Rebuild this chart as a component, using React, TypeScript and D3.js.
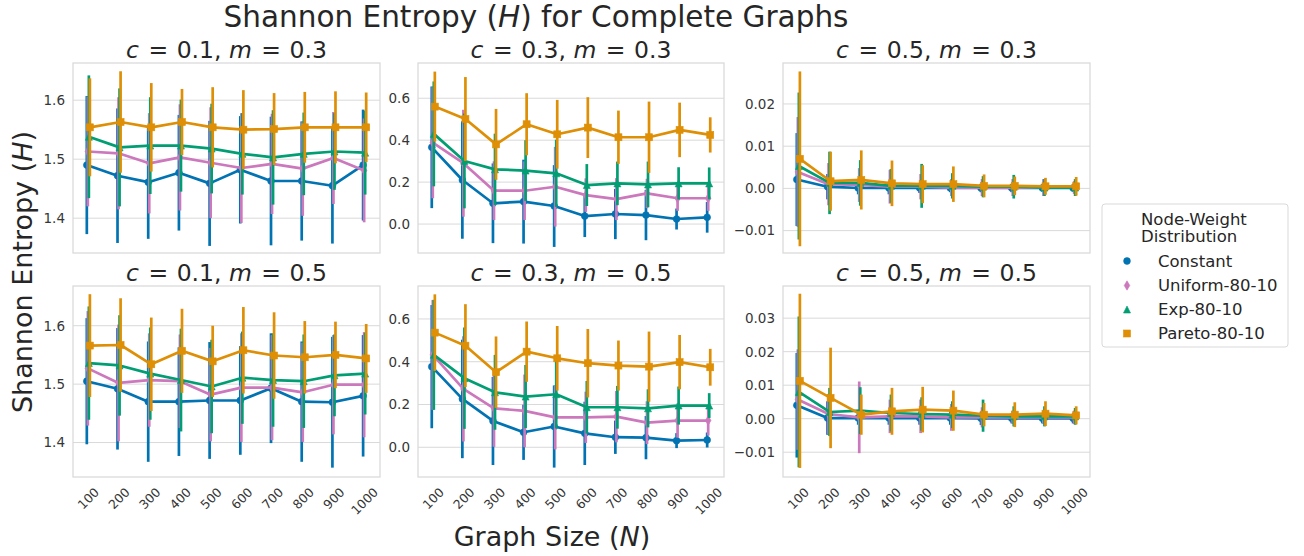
import React from "react";
import * as d3 from "d3";

// Graph sizes on the categorical x axis
const graphSizes = [100, 200, 300, 400, 500, 600, 700, 800, 900, 1000];

// Node-weight distributions (hue levels)
const seriesNames = ["Constant", "Uniform-80-10", "Exp-80-10", "Pareto-80-10"];
const seriesColors = ["#0173b2", "#cc78bc", "#029e73", "#de8f05"];
const seriesMarkers = ["circle", "thinDiamond", "triangle", "square"];

// Facet parameters
const cValues = [0.1, 0.3, 0.5];
const mValues = [0.3, 0.5];

// Mean entropy per series (rows: Constant, Uniform, Exp, Pareto) and CI half-widths
const mean_c01_m03 = [
  [1.49, 1.472, 1.461, 1.477, 1.459, 1.482, 1.463, 1.463, 1.455, 1.49],
  [1.513, 1.51, 1.493, 1.503, 1.494, 1.485, 1.492, 1.484, 1.502, 1.481],
  [1.538, 1.52, 1.523, 1.523, 1.518, 1.509, 1.503, 1.509, 1.513, 1.511],
  [1.554, 1.563, 1.554, 1.563, 1.554, 1.55, 1.551, 1.554, 1.554, 1.554],
];
const ci_c01_m03 = [
  [0.117, 0.114, 0.096, 0.098, 0.106, 0.091, 0.109, 0.101, 0.098, 0.094],
  [0.093, 0.095, 0.085, 0.09, 0.094, 0.093, 0.085, 0.08, 0.078, 0.088],
  [0.104, 0.1, 0.082, 0.078, 0.076, 0.069, 0.08, 0.07, 0.065, 0.071],
  [0.083, 0.086, 0.075, 0.056, 0.068, 0.067, 0.061, 0.06, 0.061, 0.059],
];

const mean_c03_m03 = [
  [0.366, 0.21, 0.099, 0.107, 0.086, 0.038, 0.048, 0.043, 0.024, 0.032],
  [0.388, 0.29, 0.159, 0.159, 0.178, 0.138, 0.119, 0.146, 0.123, 0.123],
  [0.43, 0.301, 0.261, 0.255, 0.242, 0.186, 0.194, 0.189, 0.194, 0.194],
  [0.56, 0.501, 0.38, 0.476, 0.428, 0.46, 0.414, 0.414, 0.449, 0.425],
];
const ci_c03_m03 = [
  [0.29, 0.28, 0.19, 0.2, 0.195, 0.1, 0.12, 0.12, 0.05, 0.073],
  [0.265, 0.255, 0.14, 0.14, 0.19, 0.08, 0.1, 0.07, 0.06, 0.06],
  [0.25, 0.226, 0.17, 0.145, 0.16, 0.1, 0.104, 0.109, 0.077, 0.076],
  [0.167, 0.2, 0.169, 0.148, 0.164, 0.145, 0.127, 0.17, 0.13, 0.084],
];

const mean_c05_m03 = [
  [0.0021, 0.0004, 0.0001, 0.0001, 0.0001, 0.0001, 0.0001, 0.0001, 0.0001, 0.0001],
  [0.0039, 0.001, 0.0008, 0.0004, 0.0004, 0.0002, 0.0002, 0.0002, 0.0002, 0.0002],
  [0.0053, 0.0013, 0.0013, 0.0006, 0.0006, 0.0006, 0.0004, 0.0004, 0.0002, 0.0002],
  [0.007, 0.0017, 0.002, 0.0012, 0.001, 0.001, 0.0006, 0.0006, 0.0005, 0.0005],
];
const ci_c05_m03 = [
  [0.011, 0.003, 0.0015, 0.0015, 0.0012, 0.001, 0.001, 0.001, 0.0008, 0.0008],
  [0.013, 0.005, 0.004, 0.004, 0.003, 0.002, 0.002, 0.002, 0.002, 0.0015],
  [0.0174, 0.0074, 0.0054, 0.004, 0.0052, 0.003, 0.0025, 0.0028, 0.002, 0.002],
  [0.0207, 0.007, 0.007, 0.0054, 0.0045, 0.0042, 0.0027, 0.0022, 0.002, 0.0022],
];

const mean_c01_m05 = [
  [1.505, 1.492, 1.47, 1.47, 1.472, 1.472, 1.493, 1.47, 1.469, 1.48],
  [1.527, 1.502, 1.507, 1.505, 1.482, 1.494, 1.494, 1.486, 1.499, 1.499],
  [1.536, 1.532, 1.518, 1.507, 1.496, 1.511, 1.507, 1.505, 1.515, 1.518],
  [1.566, 1.567, 1.534, 1.557, 1.539, 1.558, 1.549, 1.546, 1.55, 1.544],
];
const ci_c01_m05 = [
  [0.108, 0.104, 0.103, 0.093, 0.1, 0.093, 0.094, 0.103, 0.112, 0.104],
  [0.098, 0.1, 0.08, 0.08, 0.08, 0.093, 0.09, 0.085, 0.085, 0.09],
  [0.097, 0.086, 0.079, 0.088, 0.08, 0.079, 0.08, 0.08, 0.07, 0.07],
  [0.088, 0.08, 0.08, 0.072, 0.061, 0.074, 0.074, 0.062, 0.057, 0.059],
];

const mean_c03_m05 = [
  [0.377, 0.226, 0.123, 0.07, 0.097, 0.065, 0.047, 0.045, 0.031, 0.034],
  [0.432, 0.273, 0.182, 0.17, 0.14, 0.14, 0.143, 0.115, 0.125, 0.125],
  [0.432, 0.323, 0.257, 0.237, 0.248, 0.187, 0.187, 0.182, 0.195, 0.195],
  [0.536, 0.475, 0.351, 0.447, 0.416, 0.393, 0.382, 0.377, 0.398, 0.374],
];
const ci_c03_m05 = [
  [0.288, 0.277, 0.206, 0.129, 0.192, 0.148, 0.078, 0.101, 0.035, 0.035],
  [0.257, 0.246, 0.18, 0.17, 0.15, 0.12, 0.12, 0.1, 0.08, 0.07],
  [0.257, 0.237, 0.175, 0.148, 0.16, 0.123, 0.1, 0.089, 0.089, 0.058],
  [0.179, 0.194, 0.167, 0.141, 0.151, 0.16, 0.117, 0.164, 0.127, 0.086],
];

const mean_c05_m05 = [
  [0.004, 0.0002, 0.0002, 0.0002, 0.0002, 0.0002, 0.0001, 0.0001, 0.0001, 0.0001],
  [0.0057, 0.0014, 0.0004, 0.0007, 0.0007, 0.0004, 0.0004, 0.0004, 0.0004, 0.0004],
  [0.008, 0.002, 0.0024, 0.0017, 0.0014, 0.0012, 0.0009, 0.0007, 0.0007, 0.0007],
  [0.0113, 0.0062, 0.0012, 0.0022, 0.0027, 0.0024, 0.0012, 0.0012, 0.0015, 0.001],
];
const ci_c05_m05 = [
  [0.0156, 0.005, 0.002, 0.002, 0.002, 0.002, 0.002, 0.0015, 0.0015, 0.0015],
  [0.015, 0.006, 0.0107, 0.005, 0.005, 0.004, 0.003, 0.002, 0.002, 0.002],
  [0.0225, 0.0072, 0.007, 0.0055, 0.005, 0.004, 0.0048, 0.003, 0.003, 0.0025],
  [0.026, 0.015, 0.006, 0.007, 0.0068, 0.006, 0.0035, 0.0037, 0.0037, 0.0027],
];

// Axis limits and ticks per facet (row-major: m=0.3 row, then m=0.5 row)
const yLimits = [
  [1.341, 1.663], [-0.138, 0.768], [-0.0153, 0.0297],
  [1.341, 1.668], [-0.139, 0.754], [-0.0174, 0.0396],
];
const yTicks = [
  [1.4, 1.5, 1.6], [0.0, 0.2, 0.4, 0.6], [-0.01, 0.0, 0.01, 0.02],
  [1.4, 1.5, 1.6], [0.0, 0.2, 0.4, 0.6], [-0.01, 0.0, 0.01, 0.02, 0.03],
];
const yTickDecimals = [1, 1, 2, 1, 1, 2];

const facetMeans = [mean_c01_m03, mean_c03_m03, mean_c05_m03, mean_c01_m05, mean_c03_m05, mean_c05_m05];
const facetCis = [ci_c01_m03, ci_c03_m03, ci_c05_m03, ci_c01_m05, ci_c03_m05, ci_c05_m05];

const FONT = "'DejaVu Sans', sans-serif";
const TEXT = "#262626";
const TICK_TEXT = "#363636";
const GRID = "#d9d9d9";

const colX: [number, number][] = [[73, 380], [418, 724], [783, 1090]];
const rowY: [number, number][] = [[63, 253], [286, 477]];

const LW = 2.7;

function Marker({ kind, x, y, color }: { kind: string; x: number; y: number; color: string }) {
  const sw = 0.6;
  if (kind === "circle") return <circle cx={x} cy={y} r={3.4} fill={color} stroke={color} strokeWidth={sw} />;
  if (kind === "square") return <rect x={x - 3.5} y={y - 3.5} width={7} height={7} fill={color} stroke={color} strokeWidth={sw} />;
  if (kind === "triangle") {
    const s = 7;
    const pts = `${x},${y - s / 2} ${x - s / 2},${y + s / 2} ${x + s / 2},${y + s / 2}`;
    return <polygon points={pts} fill={color} stroke={color} strokeWidth={sw} />;
  }
  const h = 4.7, w = 2.8;
  const pts = `${x},${y - h} ${x + w},${y} ${x},${y + h} ${x - w},${y}`;
  return <polygon points={pts} fill={color} stroke={color} strokeWidth={sw} />;
}

function fmtTick(v: number, dec: number) {
  const s = Math.abs(v).toFixed(dec);
  return v < -1e-12 ? "\u2212" + s : s;
}

function Facet({ idx }: { idx: number }) {
  const col = idx % 3;
  const row = Math.floor(idx / 3);
  const [x0, x1] = colX[col];
  const [y0, y1] = rowY[row];
  const x = d3.scaleLinear().domain([-0.5, graphSizes.length - 0.5]).range([x0, x1]);
  const y = d3.scaleLinear().domain(yLimits[idx]).range([y1, y0]);
  const means = facetMeans[idx];
  const cis = facetCis[idx];
  const nHue = seriesNames.length;
  const dodge = 0.025 * nHue;
  const offsets = d3.range(nHue).map((j) => (j * dodge) / (nHue - 1) - dodge / 2);
  const line = d3.line<[number, number]>().x((d) => d[0]).y((d) => d[1]);
  const showX = row === 1;
  const xFs = 12.5;

  return (
    <g>
      {/* grid */}
      {yTicks[idx].map((t) => (
        <line key={t} x1={x0} x2={x1} y1={y(t)} y2={y(t)} stroke={GRID} strokeWidth={1} />
      ))}
      {/* y tick labels */}
      {yTicks[idx].map((t) => (
        <text key={"l" + t} x={x0 - 8} y={y(t)} dy="0.36em" textAnchor="end" fontSize={13.5} fill={TICK_TEXT} fontFamily={FONT}>
          {fmtTick(t, yTickDecimals[idx])}
        </text>
      ))}
      {/* series */}
      {means.map((vals, j) => {
        const color = seriesColors[j];
        const pts: [number, number][] = vals.map((v, i) => [x(i + offsets[j]), y(v)]);
        return (
          <g key={j}>
            <path d={line(pts) || ""} fill="none" stroke={color} strokeWidth={LW} strokeLinejoin="round" strokeLinecap="round" />
            {vals.map((v, i) => (
              <line key={i} x1={x(i + offsets[j])} x2={x(i + offsets[j])} y1={y(v - cis[j][i])} y2={y(v + cis[j][i])} stroke={color} strokeWidth={LW} />
            ))}
            {vals.map((v, i) => (
              <Marker key={"m" + i} kind={seriesMarkers[j]} x={x(i + offsets[j])} y={y(v)} color={color} />
            ))}
          </g>
        );
      })}
      {/* frame */}
      <rect x={x0} y={y0} width={x1 - x0} height={y1 - y0} fill="none" stroke={GRID} strokeWidth={1.25} />
      {/* title */}
      <text x={(x0 + x1) / 2} y={y0 - 5} textAnchor="middle" fontSize={23.5} fill={TEXT} fontFamily={FONT}>
        <tspan fontStyle="italic">c</tspan>
        <tspan dx={2}> = </tspan>
        <tspan dx={1}>{cValues[col].toFixed(1)}, </tspan>
        <tspan fontStyle="italic">m</tspan>
        <tspan dx={2}> = </tspan>
        <tspan dx={1}>{mValues[row].toFixed(1)}</tspan>
      </text>
      {/* x tick labels */}
      {showX &&
        graphSizes.map((g, i) => {
          const label = String(g);
          const w = label.length * 0.636 * xFs;
          const h = xFs * 0.9;
          const half = (w + h) / (2 * Math.SQRT2);
          const cy = y1 + 9 + half;
          return (
            <text key={g} transform={`translate(${x(i)},${cy}) rotate(-45)`} textAnchor="middle" dy="0.35em" fontSize={xFs} fill={TICK_TEXT} fontFamily={FONT}>
              {label}
            </text>
          );
        })}
    </g>
  );
}

function Legend() {
  const bx = 1102, by = 204, bw = 186, bh = 143;
  const rowYs = [261, 285.5, 309.5, 333.5];
  return (
    <g fontFamily={FONT} fill={TEXT}>
      <rect x={bx} y={by} width={bw} height={bh} rx={3} fill="white" fillOpacity={0.8} stroke={GRID} strokeWidth={1} />
      <text x={1141} y={224.5} fontSize={16.5}>Node-Weight</text>
      <text x={1141} y={242} fontSize={16.5}>Distribution</text>
      {seriesNames.map((name, j) => (
        <g key={name}>
          <Marker kind={seriesMarkers[j]} x={1127} y={rowYs[j]} color={seriesColors[j]} />
          <text x={1158} y={rowYs[j]} dy="0.36em" fontSize={16.5}>{name}</text>
        </g>
      ))}
    </g>
  );
}

export default function App() {
  return (
    <svg width={1304} height={556} style={{ position: "absolute", left: 0, top: 0, background: "white" }}>
      <rect width={1304} height={556} fill="white" />
      <text x={536} y={27} textAnchor="middle" fontSize={29.5} fill={TEXT} fontFamily={FONT}>
        Shannon Entropy (<tspan fontStyle="italic">H</tspan>) for Complete Graphs
      </text>
      {d3.range(6).map((i) => (
        <Facet key={i} idx={i} />
      ))}
      <text x={552} y={546} textAnchor="middle" fontSize={27} fill={TEXT} fontFamily={FONT}>
        Graph Size (<tspan fontStyle="italic">N</tspan>)
      </text>
      <text transform="translate(32,272) rotate(-90)" textAnchor="middle" fontSize={27} fill={TEXT} fontFamily={FONT}>
        Shannon Entropy (<tspan fontStyle="italic">H</tspan>)
      </text>
      <Legend />
    </svg>
  );
}
